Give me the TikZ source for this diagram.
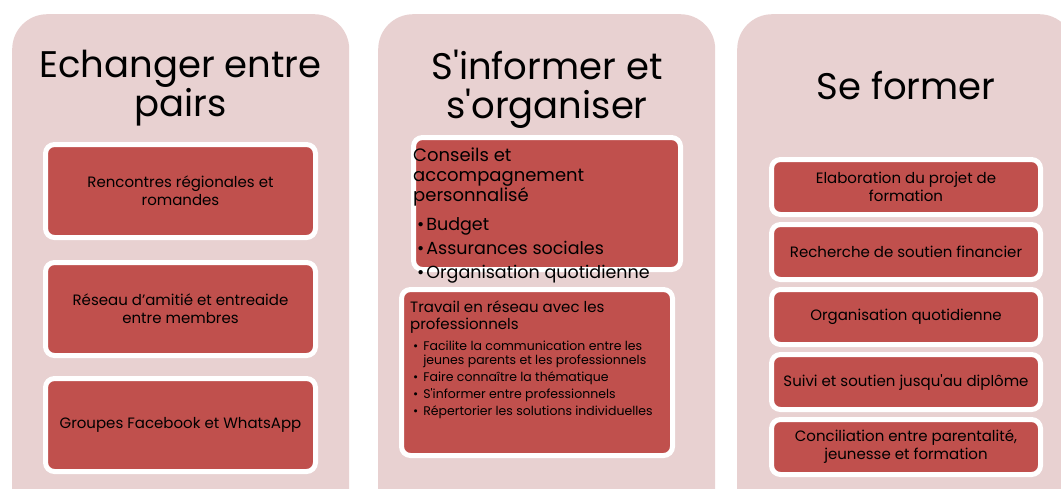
\documentclass[tikz,border=0pt]{standalone}
\usepackage{fontspec}
\setmainfont{Poppins}
\usetikzlibrary{positioning,calc}
\definecolor{panelpink}{RGB}{232,209,209}
\definecolor{boxred}{RGB}{192,80,77}
\newcommand{\sq}{\textquotesingle}
\tikzstyle{panel}=[fill=panelpink,rounded corners=35pt,minimum width=337pt,minimum height=510pt,anchor=north west,inner sep=0pt]
\tikzstyle{title}=[font=\fontsize{37}{39}\selectfont,align=center,inner sep=0pt,anchor=north]
\tikzstyle{card}=[draw=white,line width=5pt,fill=boxred,rounded corners=9pt,align=center,inner sep=0pt,font=\fontsize{15}{18}\selectfont]
\tikzstyle{paircard}=[card,minimum width=270pt,minimum height=93pt]
\tikzstyle{formcard}=[card,minimum width=269pt,minimum height=55pt]
\tikzstyle{cardtext}=[anchor=north west,align=left,inner sep=0pt]

\begin{document}
\begin{tikzpicture}[x=1pt,y=-1pt]
    \useasboundingbox (0,0) rectangle (1061,488);
    \clip (0,0) rectangle (1061,488);
    % the three columns
    \node[panel] (p1) at (12,14) {};
    \node[panel] (p2) at (378,14) {};
    \node[panel] (p3) at (737,14) {};
    \node[title] (t1) at (180.5,50) {Echanger entre\\pairs};
    \node[title] (t2) at (547,50) {S\sq informer et\\s\sq organiser};
    \node[title] (t3) at (906,71) {Se former};
    % Echanger entre pairs
    \node[paircard] (r1) at (180.5,191) {Rencontres régionales et\\romandes};
    \node[paircard,below=20pt of r1] (r2) {Réseau d’amitié et entreaide\\entre membres};
    \node[paircard,below=18pt of r2] (r3) {Groupes Facebook et WhatsApp};
    % S'informer et s'organiser
    \node[card,minimum width=267pt,minimum height=132pt] (c1) at (547,203.5) {};
    \node[cardtext,font=\fontsize{18}{20}\selectfont] (c1h) at ($(c1.north west)+(2,13)$)
       {Conseils et\\accompagnement\\personnalisé};
    \node[cardtext,font=\fontsize{17.5}{24}\selectfont] (c1b) at (417,217)
       {•\hspace{2pt}Budget\\•\hspace{2pt}Assurances sociales\\•\hspace{2pt}Organisation quotidienne};
    \node[card,minimum width=271pt,minimum height=166pt] (c2) at (537,372.5) {};
    \node[cardtext,font=\fontsize{15}{17}\selectfont] (c2h) at ($(c2.north west)+(11,14)$)
       {Travail en réseau avec les\\professionnels};
    \node[cardtext,font=\fontsize{12.5}{14}\selectfont] (c2b) at (413,341)
       {•\hspace{5pt}Facilite la communication entre les\\
        \hphantom{•\hspace{5pt}}jeunes parents et les professionnels\\[3pt]
        •\hspace{5pt}Faire connaître la thématique\\[3pt]
        •\hspace{5pt}S\sq informer entre professionnels\\[3pt]
        •\hspace{5pt}Répertorier les solutions individuelles};
    % Se former
    \node[formcard] (f1) at (906,187) {Elaboration du projet de\\formation};
    \node[formcard,below=5pt of f1] (f2) {Recherche de soutien financier};
    \node[formcard,below=5pt of f2] (f3) {Organisation quotidienne};
    \node[formcard,below=5pt of f3] (f4) {Suivi et soutien jusqu\sq au diplôme};
    \node[formcard,below=5pt of f4] (f5) {Conciliation entre parentalité,\\jeunesse et formation};
\end{tikzpicture}
\end{document}
